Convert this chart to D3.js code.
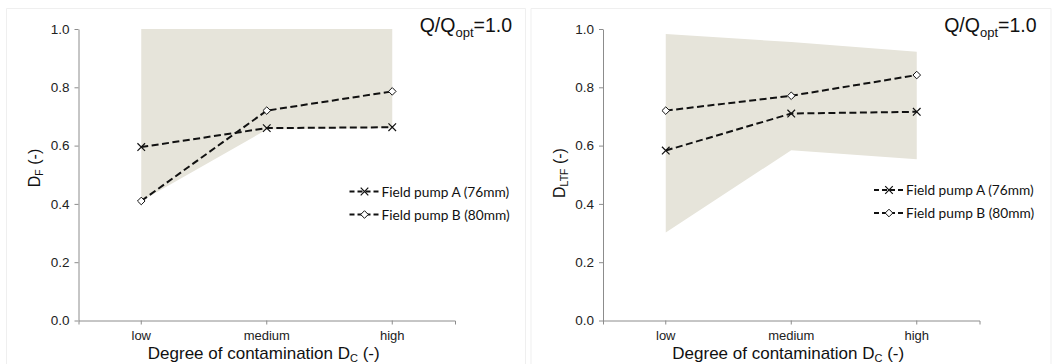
<!DOCTYPE html>
<html>
<head>
<meta charset="utf-8">
<script src="https://cdn.jsdelivr.net/npm/d3@7"></script>
<style>
  body { margin: 0; background: #fff; }
  svg { display: block; }
</style>
</head>
<body>
<svg id="chart" width="1052" height="364"></svg>
<script>
var categories = ["low", "medium", "high"];
var yTicks = [0, 0.2, 0.4, 0.6, 0.8, 1.0];

// left panel: D_F
var dfPumpA = [0.595, 0.660, 0.663];
var dfPumpB = [0.410, 0.720, 0.786];
var dfBandLow = [0.41, 0.655, 0.66];
var dfBandHigh = [1.0, 1.0, 1.0];

// right panel: D_LTF
var dltfPumpA = [0.583, 0.710, 0.716];
var dltfPumpB = [0.720, 0.771, 0.842];
var dltfBandLow = [0.302, 0.584, 0.553];
var dltfBandHigh = [0.983, 0.955, 0.922];

var seriesNames = ["Field pump A (76mm)", "Field pump B (80mm)"];

var svg = d3.select("#chart");
var margin = { top: 29, left: 78.5 };
var innerWidth = 376.5;
var innerHeight = 291.5;
var shade = "#e6e4da";
var axisColor = "#8c8c8c";
var font = "'Liberation Sans', Arial, sans-serif";

drawPanel(0, 0, dfPumpA, dfPumpB, dfBandLow, dfBandHigh, "F");
drawPanel(1, 524.5, dltfPumpA, dltfPumpB, dltfBandLow, dltfBandHigh, "LTF");

function drawPanel(idx, offX, seriesA, seriesB, bandLow, bandHigh, sub){
    var g = svg.append("g").attr("transform", "translate(" + offX + ",0)");

    // faint frame around each panel
    g.append("path")
        .attr("d", "M6.5,364V8.5H" + (idx == 0 ? 525.5 : 526.5) + "V364")
        .style("fill", "none")
        .style("stroke", "#efefef")
        .style("stroke-width", "1px");

    var plot = g.append("g").attr("transform", "translate(" + margin.left + "," + margin.top + ")");

    var x = d3.scaleBand()
        .domain(categories)
        .range([0, innerWidth]);

    var y = d3.scaleLinear()
        .domain([0, 1])
        .range([innerHeight, 0]);

    var cx = d => x(d) + x.bandwidth() / 2;

    // shaded range
    var bandData = categories.map((c, i) => ({ c: c, lo: bandLow[i], hi: bandHigh[i] }));
    plot.append("path")
        .datum(bandData)
        .attr("d", d3.area()
            .x(d => cx(d.c))
            .y0(d => y(d.lo))
            .y1(d => y(d.hi)))
        .style("fill", shade)
        .style("stroke", "none");

    // axes
    var yAxis = plot.append("g")
        .call(d3.axisLeft(y).tickValues(yTicks).tickFormat(d3.format(".1f")).tickSize(4).tickSizeOuter(0));
    yAxis.select(".domain").style("stroke", axisColor);
    yAxis.selectAll(".tick line").style("stroke", axisColor);
    yAxis.selectAll(".tick text")
        .attr("x", -9)
        .style("font-family", font)
        .style("font-size", "13.5px")
        .style("fill", "#222");

    var xAxis = plot.append("g")
        .attr("transform", "translate(0," + innerHeight + ")")
        .call(d3.axisBottom(x).tickSize(4).tickSizeOuter(4));
    xAxis.select(".domain").style("stroke", axisColor);
    xAxis.selectAll(".tick line").style("stroke", axisColor);
    xAxis.selectAll(".tick text")
        .attr("y", 10)
        .style("font-family", font)
        .style("font-size", "13px")
        .style("fill", "#222");

    // series lines
    var line = d3.line()
        .x((d, i) => cx(categories[i]))
        .y(d => y(d));

    [seriesA, seriesB].forEach(function(s){
        plot.append("path")
            .datum(s)
            .attr("d", line)
            .style("fill", "none")
            .style("stroke", "#111")
            .style("stroke-width", "2px")
            .style("stroke-dasharray", "7,3.5");
    });

    seriesA.forEach(function(v, i){
        drawCross(plot, cx(categories[i]), y(v));
    });
    seriesB.forEach(function(v, i){
        drawDiamond(plot, cx(categories[i]), y(v));
    });

    // legend
    var lg = plot.append("g").attr("transform", "translate(271," + (idx == 0 ? 162.5 : 161) + ")");
    seriesNames.forEach(function(name, k){
        var row = lg.append("g").attr("transform", "translate(0," + (k * 23) + ")");
        row.append("line")
            .attr("x1", 0).attr("x2", 31)
            .attr("y1", 0).attr("y2", 0)
            .style("stroke", "#111")
            .style("stroke-width", "2px")
            .style("stroke-dasharray", "5,3");
        if(k == 0) drawCross(row, 15, 0);
        else drawDiamond(row, 15, 0);
        row.append("text")
            .attr("x", 32)
            .attr("y", 5)
            .style("font-family", "Lato, 'Open Sans', sans-serif")
            .style("font-size", "13.7px")
            .style("fill", "#111")
            .text(name);
    });

    // title
    var t = g.append("text")
        .attr("x", 512)
        .attr("y", 31.5)
        .attr("text-anchor", "end")
        .style("font-family", font)
        .style("font-size", "19.5px")
        .style("fill", "#111");
    t.append("tspan").text("Q/Q");
    t.append("tspan").attr("dy", 5).style("font-size", "13px").text("opt");
    t.append("tspan").attr("dy", -5).text("=1.0");

    // x label
    var xl = g.append("text")
        .attr("x", margin.left + innerWidth / 2 - 3)
        .attr("y", 359)
        .attr("text-anchor", "middle")
        .style("font-family", font)
        .style("font-size", "17px")
        .style("fill", "#111");
    xl.append("tspan").text("Degree of contamination D");
    xl.append("tspan").attr("dy", 3).style("font-size", "11px").text("C");
    xl.append("tspan").attr("dy", -3).text(" (-)");

    // y label
    var yl = g.append("text")
        .attr("transform", "translate(40," + (idx == 0 ? 168 : 173) + ") rotate(-90)")
        .attr("text-anchor", "middle")
        .style("font-family", font)
        .style("font-size", "16px")
        .style("fill", "#111");
    yl.append("tspan").text("D");
    yl.append("tspan").attr("dy", 3).style("font-size", "10.5px").text(sub);
    yl.append("tspan").attr("dy", -3).text(" (-)");
}

function drawCross(parent, px, py){
    var r = 3.8;
    parent.append("path")
        .attr("d", "M" + (px - r) + "," + (py - r) + "L" + (px + r) + "," + (py + r) +
                   "M" + (px - r) + "," + (py + r) + "L" + (px + r) + "," + (py - r))
        .style("stroke", "#111")
        .style("stroke-width", "1.2px")
        .style("fill", "none");
}

function drawDiamond(parent, px, py){
    var r = 3.8;
    parent.append("path")
        .attr("d", "M" + px + "," + (py - r) + "L" + (px + r) + "," + py +
                   "L" + px + "," + (py + r) + "L" + (px - r) + "," + py + "Z")
        .style("stroke", "#111")
        .style("stroke-width", "1px")
        .style("fill", "#fff");
}
</script>
</body>
</html>
